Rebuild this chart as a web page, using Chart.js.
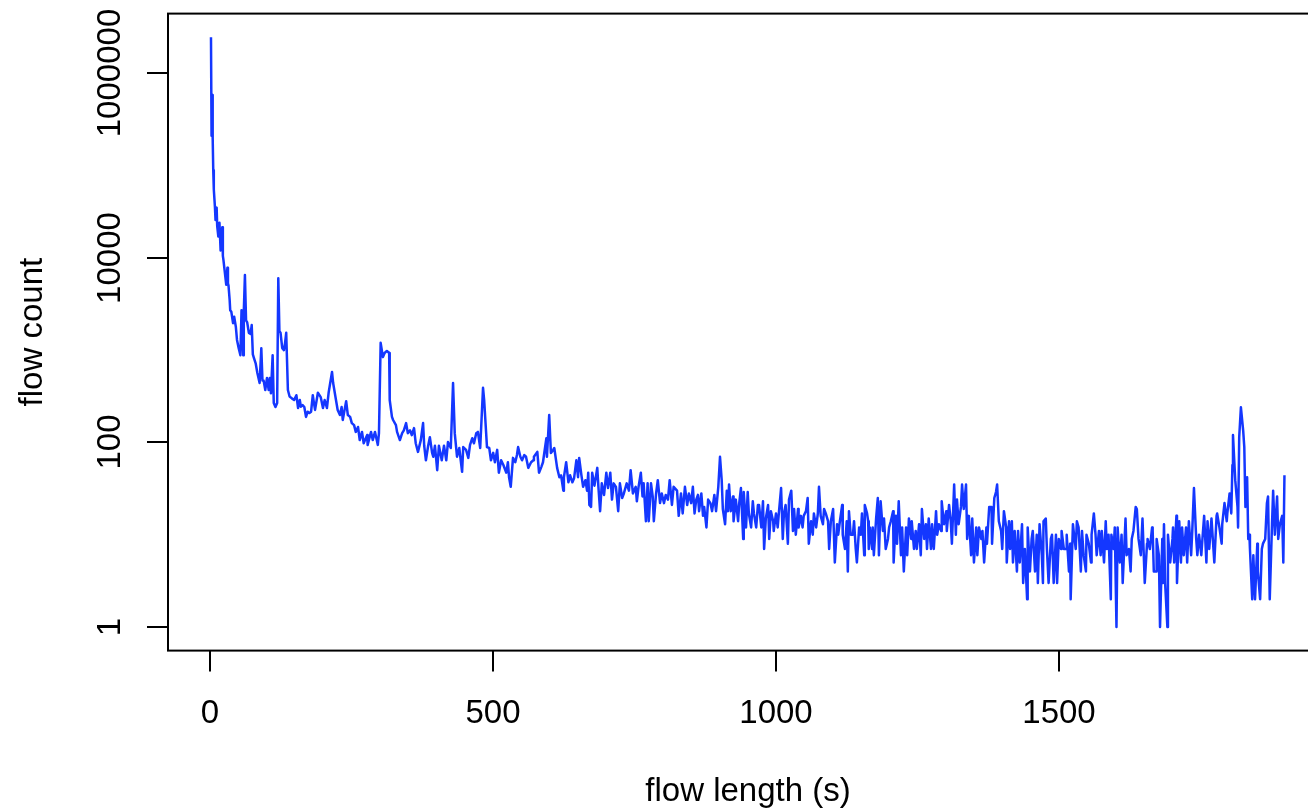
<!DOCTYPE html>
<html lang="en">
<head>
  <meta charset="UTF-8">
  <title>flow count vs flow length</title>
  <script src="https://cdn.jsdelivr.net/npm/chart.js"></script>
  <style>
    html, body {
      margin: 0;
      padding: 0;
      background: #fff;
      overflow: hidden;
    }
    #grafico {
      display: block;
    }
  </style>
</head>
<body>
  <canvas id="grafico" width="1330" height="811"></canvas>

  <script>
    // flow length in seconds (x) and the matching flow count (y, log scale)
    const flowLength = [
      1, 2, 3, 4, 5, 6, 8, 9, 11, 12,
      14, 16, 18, 21, 22, 23, 25, 28, 30, 31,
      32, 34, 35, 37, 40, 42, 45, 47, 50, 53,
      55, 58, 59, 61, 63, 65, 68, 71, 73, 75,
      77, 80, 83, 87, 90, 92, 94, 97, 100, 103,
      105, 107, 110, 112, 115, 118, 120, 122, 124, 127,
      130, 132, 134, 137, 140, 144, 148, 152, 155, 158,
      160, 163, 166, 169, 172, 175, 178, 181, 183, 185,
      190, 195, 199, 202, 206, 209, 215, 217, 222, 225,
      229, 232, 234, 240, 243, 247, 250, 254, 257, 261,
      264, 268, 271, 277, 278, 284, 287, 291, 296, 298,
      301, 305, 308, 312, 316, 317, 321, 323, 328, 330,
      335, 339, 342, 346, 349, 353, 356, 360, 363, 367,
      372, 376, 378, 381, 385, 388, 392, 394, 397, 401,
      404, 409, 413, 417, 420, 425, 429, 432, 436, 440,
      445, 447, 452, 456, 459, 463, 466, 470, 473, 477,
      482, 484, 489, 493, 496, 500, 503, 507, 510, 514,
      518, 523, 526, 528, 531, 535, 539, 542, 544, 548,
      551, 555, 558, 562, 567, 571, 572, 578, 581, 585,
      588, 594, 595, 599, 602, 606, 608, 613, 617, 620,
      624, 625, 629, 633, 636, 640, 643, 647, 650, 652,
      656, 659, 663, 666, 668, 670, 673, 675, 679, 684,
      686, 689, 692, 696, 700, 703, 707, 710, 713, 717,
      721, 724, 728, 731, 736, 740, 743, 747, 752, 754,
      757, 761, 764, 766, 770, 773, 775, 779, 782, 784,
      788, 791, 795, 798, 802, 805, 809, 812, 816, 819,
      825, 828, 832, 835, 839, 843, 846, 850, 853, 856,
      859, 862, 864, 868, 871, 873, 877, 880, 884, 887,
      891, 894, 898, 901, 904, 906, 910, 913, 915, 917,
      920, 924, 925, 929, 933, 935, 938, 942, 943, 947,
      950, 952, 956, 959, 961, 965, 968, 970, 974, 977,
      979, 982, 986, 988, 991, 995, 996, 1000, 1003, 1005,
      1009, 1012, 1014, 1017, 1021, 1023, 1027, 1030, 1032, 1035,
      1039, 1040, 1044, 1047, 1049, 1053, 1056, 1058, 1062, 1065,
      1067, 1071, 1074, 1076, 1079, 1083, 1085, 1088, 1092, 1094,
      1097, 1101, 1104, 1108, 1110, 1113, 1117, 1118, 1122, 1125,
      1127, 1129, 1132, 1136, 1138, 1141, 1143, 1147, 1150, 1152,
      1156, 1157, 1161, 1163, 1164, 1166, 1170, 1171, 1173, 1177,
      1180, 1182, 1185, 1189, 1191, 1194, 1198, 1200, 1203, 1207,
      1208, 1212, 1214, 1217, 1221, 1223, 1226, 1230, 1232, 1235,
      1239, 1240, 1244, 1247, 1249, 1253, 1256, 1258, 1262, 1265,
      1267, 1270, 1274, 1276, 1279, 1283, 1285, 1288, 1292, 1293,
      1297, 1301, 1302, 1306, 1309, 1311, 1315, 1318, 1320, 1323,
      1327, 1329, 1332, 1336, 1338, 1341, 1345, 1347, 1350, 1354,
      1356, 1359, 1363, 1365, 1368, 1372, 1373, 1377, 1381, 1382,
      1386, 1389, 1391, 1394, 1398, 1400, 1403, 1407, 1408, 1412,
      1414, 1417, 1419, 1422, 1426, 1428, 1431, 1435, 1437, 1440,
      1444, 1445, 1449, 1452, 1454, 1458, 1461, 1463, 1466, 1470,
      1472, 1473, 1477, 1479, 1482, 1486, 1488, 1491, 1495, 1497,
      1500, 1504, 1505, 1509, 1513, 1514, 1518, 1520, 1521, 1525,
      1527, 1530, 1532, 1535, 1539, 1541, 1544, 1548, 1549, 1553,
      1557, 1558, 1562, 1565, 1567, 1571, 1574, 1576, 1580, 1583,
      1585, 1588, 1592, 1593, 1597, 1599, 1602, 1604, 1608, 1611,
      1613, 1618, 1620, 1624, 1627, 1629, 1632, 1636, 1638, 1641,
      1645, 1648, 1652, 1656, 1657, 1661, 1665, 1666, 1668, 1672,
      1673, 1677, 1679, 1683, 1684, 1686, 1688, 1692, 1693, 1697,
      1701, 1702, 1704, 1708, 1709, 1713, 1716, 1718, 1721, 1725,
      1727, 1730, 1734, 1736, 1739, 1743, 1745, 1748, 1752, 1754,
      1757, 1761, 1763, 1766, 1770, 1771, 1775, 1779, 1780, 1784,
      1788, 1789, 1793, 1797, 1798, 1802, 1805, 1807, 1808, 1812,
      1816, 1817, 1819, 1822, 1826, 1828, 1830, 1833, 1835, 1837,
      1838, 1842, 1844, 1847, 1851, 1852, 1856, 1859, 1861, 1865,
      1868, 1870, 1873, 1877, 1879, 1882, 1886, 1888, 1891, 1895,
      1897, 1899
    ];

    const flowCount = [
      2460000, 210000, 580000, 200000, 89000, 55000, 35500, 25700, 35000, 22000,
      17000, 24000, 12000, 21500, 10500, 9500, 7400, 5100, 7800, 5300,
      5000, 3500, 2700, 2600, 1960, 2300, 1780, 1290, 1050, 880,
      2700, 880, 2600, 6500, 2100, 2000, 1540, 1500, 1870, 900,
      820, 720, 565, 440, 1050, 470, 470, 370, 500, 370,
      500, 340, 880, 268, 242, 268, 6000, 1600, 1540, 1050,
      1000, 1200, 1540, 370, 314, 300, 288, 325, 236, 288,
      244, 254, 242, 189, 215, 208, 215, 325, 268, 225,
      345, 310, 236, 288, 236, 345, 580, 440, 288, 225,
      198, 242, 175, 280, 198, 189, 162, 154, 130, 147,
      106, 130, 98, 120, 94, 130, 106, 130, 94, 126,
      1200, 840, 930, 980, 930, 288, 189, 175, 154, 130,
      106, 126, 135, 162, 126, 135, 120, 143, 98, 79,
      106, 162, 92, 64, 92, 114, 77, 70, 92, 50,
      92, 64, 92, 64, 101, 87, 440, 126, 70, 87,
      48, 89, 83, 68, 94, 111, 98, 126, 130, 87,
      390, 288, 89, 87, 64, 77, 61, 83, 47, 64,
      57, 47, 61, 42, 33, 68, 61, 73, 89, 70,
      64, 73, 70, 53, 61, 64, 70, 79, 47, 54,
      61, 111, 70, 198, 77, 83, 87, 53, 42, 44,
      30, 42, 61, 37, 44, 37, 41, 64, 42, 68,
      44, 33, 39, 30, 47, 21, 20, 47, 34, 53,
      33, 18, 36, 27, 47, 32, 47, 24, 36, 33,
      18, 36, 25, 28, 36, 30, 50, 28, 33, 23,
      33, 47, 26, 36, 14, 36, 14, 36, 26, 14,
      28, 39, 22, 28, 22, 27, 24, 39, 21, 33,
      30, 16, 28, 17, 33, 21, 28, 22, 33, 17,
      24, 27, 18, 28, 16, 20, 12, 24, 22, 18,
      27, 18, 33, 70, 39, 19, 13, 30, 18, 35,
      18, 26, 14, 24, 14, 22, 32, 9, 29, 12,
      29, 17, 12, 23, 17, 12, 21, 21, 12, 23,
      7, 15, 21, 9, 18, 14, 11, 17, 12, 17,
      32, 9, 17, 21, 8, 24, 30, 11, 19, 10,
      19, 12, 16, 12, 16, 18, 25, 8, 14, 10,
      17, 12, 17, 33, 16, 13, 19, 17, 14, 7,
      14, 19, 5, 13, 10, 14, 21, 10, 7, 14,
      4, 18, 10, 10, 14, 7, 5, 12, 10, 17,
      6, 21, 17, 14, 7, 12, 7, 12, 6, 15,
      25, 6, 23, 11, 15, 7, 9, 12, 14, 18,
      5, 16, 8, 23, 6, 12, 4, 12, 6, 15,
      9, 14, 7, 11, 7, 13, 6, 19, 9, 13,
      7, 15, 7, 13, 7, 18, 10, 13, 11, 23,
      13, 18, 11, 21, 14, 8, 35, 10, 24, 13,
      20, 35, 19, 35, 9, 16, 6, 15, 5, 12,
      6, 12, 9, 11, 5, 12, 8, 20, 20, 8,
      25, 29, 35, 14, 11, 7, 18, 12, 5, 14,
      7, 14, 5, 11, 4, 11, 5, 13, 3, 7,
      2, 12, 4, 9, 11, 4, 10, 3, 13, 6,
      3, 14, 15, 7, 3, 9, 10, 3, 10, 3,
      9, 7, 11, 7, 7, 10, 4, 8, 2, 13,
      10, 7, 14, 12, 4, 11, 6, 4, 10, 8,
      5, 10, 17, 10, 6, 11, 6, 11, 5, 14,
      7, 10, 2, 10, 7, 12, 1, 12, 5, 10,
      3, 15, 6, 7, 4, 9, 11, 20, 19, 9,
      6, 15, 3, 8, 9, 7, 12, 11, 4, 4,
      9, 6, 1, 9, 3, 13, 3, 1, 10, 5,
      9, 12, 5, 16, 3, 14, 5, 12, 6, 12,
      5, 14, 6, 11, 32, 9, 6, 10, 6, 9,
      16, 5, 14, 7, 15, 12, 5, 16, 17, 12,
      8, 13, 22, 14, 17, 28, 17, 57, 120, 39,
      20, 12, 114, 240, 135, 89, 20, 42, 9, 10,
      7, 2, 6, 2, 8, 4, 2, 7, 8, 9,
      22, 26, 2, 13, 30, 10, 26, 9, 13, 16,
      5, 44
    ];

    const xTicks = [0, 500, 1000, 1500];
    const yTicks = [1, 100, 10000, 1000000];
    const xTitle = 'flow length (s)';
    const yTitle = 'flow count';

    const font = '33px "Liberation Sans", Arial, Helvetica, sans-serif';

    // assi in stile R: riquadro, tacche verso l'esterno, etichette y ruotate
    const assiR = {
      id: 'assiR',
      afterDraw(chart) {
        const ctx = chart.ctx;
        const area = chart.chartArea;
        const sx = chart.scales.x;
        const sy = chart.scales.y;
        ctx.save();
        ctx.strokeStyle = '#000';
        ctx.fillStyle = '#000';
        ctx.lineWidth = 2;
        ctx.strokeRect(area.left, area.top, area.right - area.left, area.bottom - area.top);

        ctx.font = font;
        ctx.textAlign = 'center';
        ctx.textBaseline = 'alphabetic';

        xTicks.forEach(v => {
          const px = Math.round(sx.getPixelForValue(v));
          ctx.beginPath();
          ctx.moveTo(px, area.bottom);
          ctx.lineTo(px, area.bottom + 21);
          ctx.stroke();
          ctx.fillText(String(v), px, 723);
        });

        yTicks.forEach(v => {
          const py = Math.round(sy.getPixelForValue(v));
          ctx.beginPath();
          ctx.moveTo(area.left - 21, py);
          ctx.lineTo(area.left, py);
          ctx.stroke();
          ctx.save();
          ctx.translate(120, py);
          ctx.rotate(-Math.PI / 2);
          ctx.fillText(String(v), 0, 0);
          ctx.restore();
        });

        ctx.fillText(xTitle, (area.left + area.right) / 2, 801);
        ctx.save();
        ctx.translate(42, (area.top + area.bottom) / 2);
        ctx.rotate(-Math.PI / 2);
        ctx.fillText(yTitle, 0, 0);
        ctx.restore();
        ctx.restore();
      }
    };

    const punti = flowLength.map((x, i) => ({ x: x, y: flowCount[i] }));

    const ctx = document.getElementById('grafico').getContext('2d');
    const grafico = new Chart(ctx, {
      type: 'line',
      data: {
        datasets: [{
          label: 'flow count',
          data: punti,
          borderColor: '#1437ff',
          borderWidth: 2.5,
          borderJoinStyle: 'round',
          pointRadius: 0,
          tension: 0,
          fill: false
        }]
      },
      options: {
        responsive: false,
        animation: false,
        devicePixelRatio: 1,
        layout: {
          padding: { left: 168, top: 13.6, right: 2, bottom: 160.4 }
        },
        plugins: {
          legend: { display: false },
          tooltip: { enabled: false }
        },
        scales: {
          x: { type: 'linear', min: -75, max: 1976, display: false },
          y: { type: 'logarithmic', min: 0.555, max: 4430000, display: false }
        }
      },
      plugins: [assiR]
    });
  </script>
</body>
</html>
